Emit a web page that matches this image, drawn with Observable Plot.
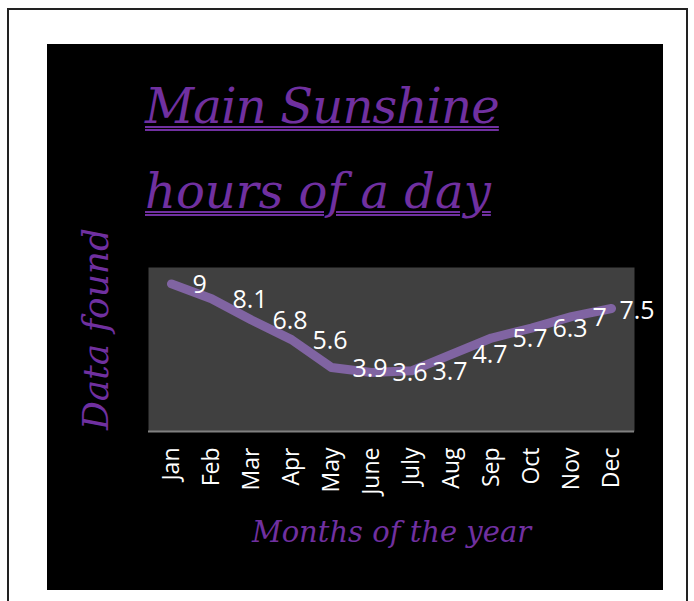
<!DOCTYPE html>
<html>
<head>
<meta charset="utf-8">
<script src="https://cdn.jsdelivr.net/npm/d3@7"></script>
<script src="https://cdn.jsdelivr.net/npm/@observablehq/plot@0.6"></script>
<style>
  html, body { margin: 0; padding: 0; background: #ffffff; width: 694px; height: 601px; overflow: hidden; }
  #frame { position: absolute; left: 7px; top: 8px; width: 677px; height: 700px; border: 2px solid #222; }
  #panel { position: absolute; left: 47px; top: 44px; width: 616px; height: 546px; background: #000; }
  .title { position: absolute; left: 145px; font-family: "DejaVu Serif", serif; font-style: italic; font-size: 48px; line-height: 48px; color: #7030A0; white-space: nowrap;
           text-decoration: underline double #7030A0; text-decoration-thickness: 2px; text-underline-offset: 3px; }
  #ytitle { position: absolute; left: 96px; top: 329px; transform: translate(-50%, -50%) rotate(-90deg); font-family: "DejaVu Serif", serif; font-style: italic; font-size: 36px; color: #7030A0; white-space: nowrap; line-height: 1; }
  #chart { position: absolute; left: 47px; top: 240px; }
</style>
</head>
<body>
<div id="frame"></div>
<div id="panel"></div>
<div class="title" id="t1" style="top:82px; letter-spacing:-0.8px;"></div>
<div class="title" id="t2" style="top:167px; letter-spacing:0px;"></div>
<div id="ytitle"></div>
<div id="chart"></div>
<script>
const titleLines = ["Main Sunshine", "hours of a day"];
const months = ["Jan", "Feb", "Mar", "Apr", "May", "June", "July", "Aug", "Sep", "Oct", "Nov", "Dec"];
const hours = [9, 8.1, 6.8, 5.6, 3.9, 3.6, 3.7, 4.7, 5.7, 6.3, 7, 7.5];
const xTitle = "Months of the year";
const yTitle = "Data found";

document.getElementById("t1").textContent = titleLines[0];
document.getElementById("t2").textContent = titleLines[1];
document.getElementById("ytitle").textContent = yTitle;

const data = months.map((m, i) => ({month: m, hours: hours[i]}));
const lastMonth = months[months.length - 1];

const chart = Plot.plot({
  width: 616,
  height: 330,
  marginLeft: 101,
  marginRight: 29,
  marginTop: 27,
  marginBottom: 139,
  style: {background: "transparent", color: "white", fontFamily: "'Open Sans', sans-serif", fontSize: "23px", overflow: "visible"},
  x: {type: "point", domain: months, padding: 0.5},
  y: {domain: [0, 10]},
  marks: [
    Plot.frame({fill: "#404040", stroke: null}),
    Plot.ruleY([0], {stroke: "#808080", strokeWidth: 2}),
    Plot.axisX({tickRotate: -90, tickSize: 0, tickPadding: 16, label: null, fill: "white"}),
    Plot.axisY({ticks: [], label: null}),
    Plot.line(data, {x: "month", y: "hours", stroke: "#8064A2", strokeWidth: 9, strokeLinecap: "round", strokeLinejoin: "round"}),
    Plot.text(data, {filter: d => d.month !== lastMonth, x: "month", y: "hours", text: d => String(d.hours), textAnchor: "start", dx: 21, dy: 1, fill: "white", fontSize: 25}),
    Plot.text(data, {filter: d => d.month === lastMonth, x: "month", y: "hours", text: d => String(d.hours), textAnchor: "start", dx: 8, dy: 2, fill: "white", fontSize: 25}),
    Plot.text([xTitle], {frameAnchor: "bottom", dy: 110, text: d => d, fill: "#7030A0", fontFamily: "DejaVu Serif", fontStyle: "italic", fontSize: 29})
  ]
});
document.getElementById("chart").appendChild(chart);
</script>
</body>
</html>
